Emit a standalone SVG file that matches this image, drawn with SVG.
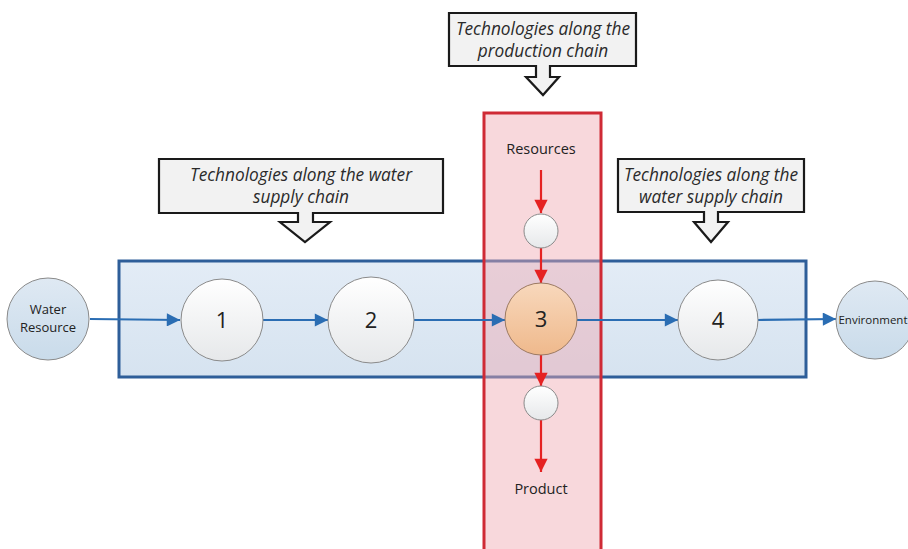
<svg xmlns="http://www.w3.org/2000/svg" width="908" height="549" viewBox="0 0 908 549">
<defs>
<linearGradient id="gWhite" x1="0" y1="0" x2="0" y2="1"><stop offset="0" stop-color="#ffffff"/><stop offset="1" stop-color="#e6e8ea"/></linearGradient>
<linearGradient id="gBlue" x1="0" y1="0" x2="0" y2="1"><stop offset="0" stop-color="#dfe9f3"/><stop offset="1" stop-color="#c9dbea"/></linearGradient>
<linearGradient id="gPeach" x1="0" y1="0" x2="0" y2="1"><stop offset="0" stop-color="#f8d8bc"/><stop offset="1" stop-color="#efb98c"/></linearGradient>
<linearGradient id="gBox" x1="0" y1="0" x2="0" y2="1"><stop offset="0" stop-color="#e3ecf6"/><stop offset="1" stop-color="#d6e3f0"/></linearGradient>
<marker id="aBlue" viewBox="0 0 10 10" refX="10" refY="5" markerWidth="7" markerHeight="6" orient="auto" markerUnits="strokeWidth"><path d="M0,0 L10,5 L0,10 z" fill="#2a6db3"/></marker>
<marker id="aRed" viewBox="0 0 10 10" refX="10" refY="5" markerWidth="7" markerHeight="6" orient="auto" markerUnits="strokeWidth"><path d="M0,0 L10,5 L0,10 z" fill="#e52222"/></marker>
</defs>
<style>
.callout{fill:#f2f2f2;stroke:#1a1a1a;stroke-width:2.2}
.ctext{font-family:"Open Sans","Liberation Sans",sans-serif;font-style:italic;font-size:17.3px;fill:#2a2a2a;text-anchor:middle}
.lbl{font-family:"Open Sans","Liberation Sans",sans-serif;fill:#222;text-anchor:middle}
.wnode{fill:url(#gWhite);stroke:#8a8a8a;stroke-width:1}
.bnode{fill:url(#gBlue);stroke:#8a8a8a;stroke-width:1}
.blue{stroke:#2a6db3;stroke-width:2.2;fill:none;marker-end:url(#aBlue)}
.red{stroke:#e52222;stroke-width:2.2;fill:none;marker-end:url(#aRed)}
</style>
<rect width="908" height="549" fill="#ffffff"/>
<g id="water-chain-box"><rect x="119" y="261" width="687" height="116" fill="url(#gBox)" stroke="#2e5e99" stroke-width="3"/></g>
<g id="production-chain-box"><rect x="484" y="113" width="117" height="440" fill="#f0a9b2" fill-opacity="0.45" stroke="#cf2a35" stroke-width="3"/></g>
<g id="callout-production">
<path class="callout" d="M449,13 H636 V66 H550 V77 H559 L543,95 L526,77 H536 V66 H449 Z"/>
<text class="ctext" x="543" y="35">Technologies along the</text>
<text class="ctext" x="543" y="57">production chain</text>
</g>
<g id="callout-water-left">
<path class="callout" d="M159,159 H443 V213 H313 V222 H330 L305,242 L280,222 H298 V213 H159 Z"/>
<text class="ctext" x="301" y="181">Technologies along the water</text>
<text class="ctext" x="301" y="203">supply chain</text>
</g>
<g id="callout-water-right">
<path class="callout" d="M618,159 H804 V212 H718 V222 H728 L711,242 L694,222 H704 V212 H618 Z"/>
<text class="ctext" x="711" y="181">Technologies along the</text>
<text class="ctext" x="711" y="203">water supply chain</text>
</g>
<g id="connectors">
<line class="blue" x1="90" y1="319" x2="180" y2="320"/>
<line class="blue" x1="263" y1="320" x2="328" y2="320"/>
<line class="blue" x1="414" y1="320" x2="505" y2="320"/>
<line class="blue" x1="577" y1="320" x2="678" y2="320"/>
<line class="blue" x1="758" y1="320" x2="836" y2="319"/>
<line class="red" x1="541" y1="170" x2="541" y2="213"/>
<line class="red" x1="541" y1="248" x2="541" y2="283"/>
<line class="red" x1="541" y1="355" x2="541" y2="386"/>
<line class="red" x1="541" y1="420" x2="541" y2="472"/>
</g>
<g id="water-resource"><circle class="bnode" cx="48" cy="319" r="41"/>
<text class="lbl" x="48" y="314" font-size="13">Water</text>
<text class="lbl" x="48" y="332" font-size="13">Resource</text></g>
<g id="node1"><circle class="wnode" cx="222" cy="320" r="41"/><text class="lbl" x="222" y="328" font-size="22">1</text></g>
<g id="node2"><circle class="wnode" cx="371" cy="320" r="43"/><text class="lbl" x="371" y="328" font-size="22">2</text></g>
<g id="node3"><circle cx="541" cy="319" r="36" fill="url(#gPeach)" stroke="#9c7a62" stroke-width="1"/><text class="lbl" x="541" y="327" font-size="22">3</text></g>
<g id="node4"><circle class="wnode" cx="718" cy="320" r="40"/><text class="lbl" x="718" y="328" font-size="22">4</text></g>
<g id="environment"><circle class="bnode" cx="875" cy="320" r="39"/><text class="lbl" x="873" y="324" font-size="11.5">Environment</text></g>
<g id="resources"><text class="lbl" x="541" y="154" font-size="14.5">Resources</text></g>
<g id="small-top"><circle class="wnode" cx="541" cy="231" r="17"/></g>
<g id="small-bottom"><circle class="wnode" cx="541" cy="403" r="17"/></g>
<g id="product"><text class="lbl" x="541" y="494" font-size="14.5">Product</text></g>
</svg>
